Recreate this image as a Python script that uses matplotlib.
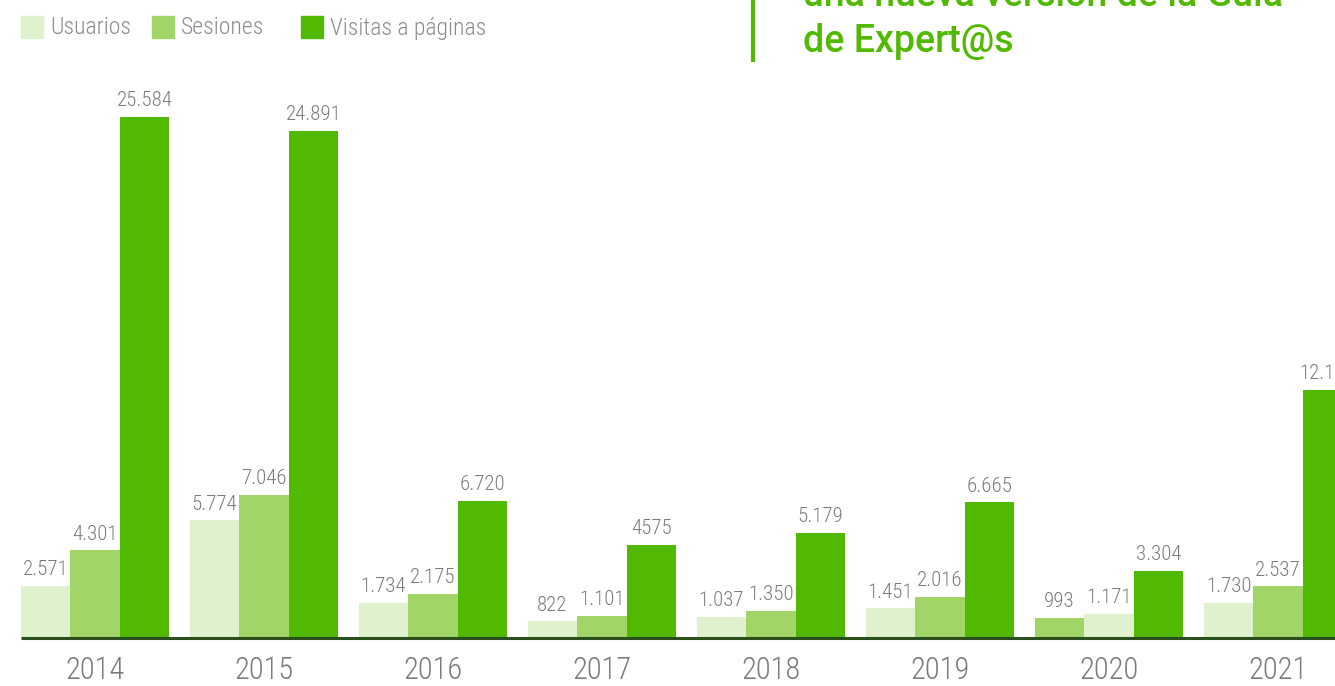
import matplotlib
matplotlib.use('Agg')
from matplotlib import pyplot as plt
from matplotlib import font_manager as fm
from matplotlib.patches import Rectangle

years = ['2014', '2015', '2016', '2017', '2018', '2019', '2020', '2021']
usuarios = [2571, 5774, 1734, 822, 1037, 1451, 993, 1730]
sesiones = [4301, 7046, 2175, 1101, 1350, 2016, 1171, 2537]
visitas = [25584, 24891, 6720, 4575, 5179, 6665, 3304, 12186]
usuarios_lbl = ['2.571', '5.774', '1.734', '822', '1.037', '1.451', '993', '1.730']
sesiones_lbl = ['4.301', '7.046', '2.175', '1.101', '1.350', '2.016', '1.171', '2.537']
visitas_lbl = ['25.584', '24.891', '6.720', '4575', '5.179', '6.665', '3.304', '12.186']
series_names = ['Usuarios', 'Sesiones', 'Visitas a páginas']
title_lines = ['una nueva versión de la Guía', 'de Expert@s']

c_light = '#dff1cd'
c_mid = '#a1d568'
c_dark = '#50b900'
c_text = '#7b7b7b'

# pick a narrow font if there is one
names = {f.name for f in fm.fontManager.ttflist}
cond = {}
for cand in ['Roboto Condensed', 'Liberation Sans Narrow']:
    if cand in names:
        cond = dict(family=cand)
        break
if not cond:
    cond = dict(family='DejaVu Sans', stretch='condensed')

fig = plt.figure(figsize=(13.35, 6.86), dpi=100)
ax = fig.add_axes([0, 0, 1, 1])
ax.set_xlim(-0.562, 7.337)
ax.set_ylim(-2357, 31330)
ax.axis('off')

w = 0.293
for i, yr in enumerate(years):
    cols = [c_light, c_mid, c_dark]
    if yr == '2020':
        # the original swaps the two light colours here
        cols = [c_mid, c_light, c_dark]
    vals = [usuarios[i], sesiones[i], visitas[i]]
    lbls = [usuarios_lbl[i], sesiones_lbl[i], visitas_lbl[i]]
    for k in range(3):
        x = i + (k - 1) * w
        ax.bar(x, vals[k], width=w, color=cols[k], zorder=2)
        ax.text(x, vals[k] + 330, lbls[k], ha='center', va='bottom',
                color=c_text, fontsize=15, fontweight='light', **cond)
    ax.text(i, -1620, yr, ha='center', va='center', color=c_text,
            fontsize=22, fontweight='light', **cond)

# baseline
ax.plot([-0.562 + 21 / 169, 7.337], [0, 0], color='#2b4f1c', lw=2.2, zorder=3,
        solid_capstyle='butt')

# legend at top left
leg_x = [21, 152, 301]
for k, name in enumerate(series_names):
    x0 = leg_x[k] / 1335
    fig.patches.append(Rectangle((x0, 1 - 38 / 686), 22 / 1335, 22 / 686,
                                 transform=fig.transFigure,
                                 color=[c_light, c_mid, c_dark][k]))
    fig.text(x0 + 29 / 1335, 1 - 28 / 686, name, ha='left', va='center',
             color='#8c8c8c', fontsize=17, fontweight='light', **cond)

# title fragment at top right
fig.add_artist(plt.Line2D([753 / 1335, 753 / 1335], [1 - 60 / 686, 1.0],
                          transform=fig.transFigure, color=c_dark, lw=3))
for j, line in enumerate(title_lines):
    fig.text(803 / 1335, 1 - (6 + 46 * j) / 686, line, ha='left',
             va='baseline', color=c_dark, fontsize=27, fontweight='medium',
             family='Roboto')

fig.savefig('out.png', dpi=100)
